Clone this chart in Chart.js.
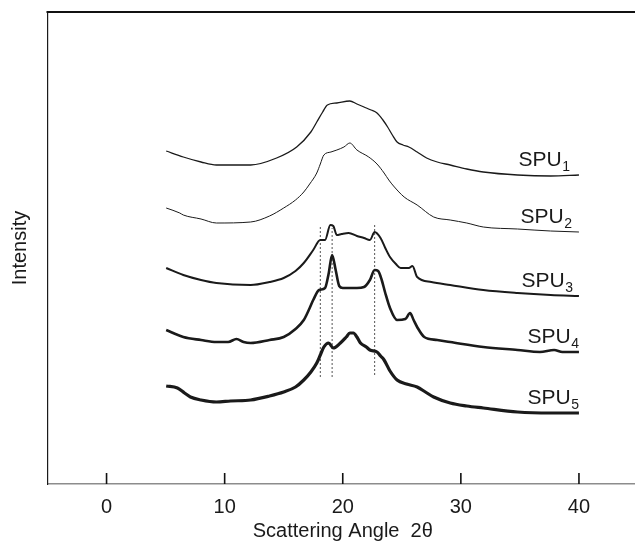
<!DOCTYPE html>
<html>
<head>
<meta charset="utf-8">
<script src="https://cdn.jsdelivr.net/npm/chart.js@4.4.1/dist/chart.umd.min.js"></script>
<style>
  html, body { margin: 0; padding: 0; background: #fff; overflow: hidden; }
  #wrap { position: relative; width: 638px; height: 543px; }
</style>
</head>
<body>
<div id="wrap"><canvas id="c"></canvas></div>
<script>
// ---- Data ----
const tickValues = [0, 10, 20, 30, 40];
const seriesNames = ['SPU1', 'SPU2', 'SPU3', 'SPU4', 'SPU5'];
const seriesSubs = ['1', '2', '3', '4', '5'];

// [scattering angle, intensity (arbitrary, offset-stacked)]
const spu1 = [[5.05,333],[6.5,327],[8,322],[9.3,319],[12.2,319],[14.4,326],[16.1,337],[17.3,352],[17.8,362],[18.3,372],[18.7,379],[19.5,381],[20.6,383],[21.2,380],[21.8,377],[22.4,374],[22.9,371],[23.4,364],[23.8,357],[24.2,349],[24.6,342],[25.1,339],[25.6,337],[26.3,332],[27.1,326],[28,322],[29.1,319],[30.5,315],[31.9,312],[34.8,309],[37.6,308],[40,309]];
const spu2 = [[5.05,276],[6.2,271],[6.5,269],[8,265],[9.3,261],[12.2,262],[13.8,268],[15.0,276],[16.0,284],[16.7,292],[17.2,300],[17.8,311],[18.1,320],[18.4,329],[19.0,332],[19.5,334],[20.1,337],[20.6,341],[21.2,334],[22.2,327],[22.9,320],[23.5,311],[23.9,304],[24.3,298],[25.2,287],[26.3,279],[27.7,267],[29.1,264],[30.5,261],[31.9,257],[34.8,255],[37.6,253],[40,252]];
const spu3 = [[5.05,216],[6.5,209],[8,204],[9.3,201],[12.2,199],[13.8,202],[15.0,206],[16.0,213],[16.7,221],[17.5,234],[18.1,244],[18.5,244],[18.95,259],[19.2,258],[19.5,249],[19.9,250],[20.5,251],[21.2,248],[21.8,246],[22.3,244],[22.7,252],[23.2,246],[23.6,236],[24.0,227],[24.5,220],[24.9,216],[25.6,216],[25.9,218],[26.3,207],[27.5,202],[29.1,199],[31.9,194],[34.8,191],[37.6,189],[40,188]];
const spu4 = [[5.05,154],[6.5,147],[8,144],[9.3,142],[10.3,142],[11.0,145],[11.6,142],[12.2,141],[13.8,144],[15.0,147],[16.0,155],[16.7,164],[17.2,176],[17.5,184],[18.0,194],[18.5,196],[18.8,210],[19.1,229],[19.4,214],[19.7,198],[20.0,196],[20.6,196],[21.2,196],[21.8,197],[22.3,204],[22.7,214],[23.0,213],[23.3,204],[23.6,191],[24.0,176],[24.6,164],[25.3,165],[25.7,171],[26.0,164],[26.3,157],[26.9,147],[28,144],[29.1,142],[31.9,137],[34.8,134],[36.7,132],[37.9,134],[38.6,132],[40,132]];
const spu5 = [[5.05,98],[6.0,96],[6.6,91],[7.1,87],[8,84],[9.3,82],[10.5,83],[12.2,84],[13.8,88],[15.0,92],[16.0,97],[16.7,104],[17.3,112],[17.8,121],[18.1,129],[18.4,137],[18.8,141],[19.2,136],[19.8,141],[20.3,147],[20.6,151],[20.9,151],[21.2,147],[21.5,141],[22.0,137],[22.3,134],[22.9,132],[23.2,128],[23.5,124],[24.0,113],[24.6,104],[25.4,100],[26.3,97],[27.0,92],[27.7,87],[29.1,81],[30.5,78],[31.9,76],[34.8,72],[37.6,71],[40,71]];

// vertical dotted reference lines: [angle, lower intensity, upper intensity]
const refLines = [[18.1,107,257],[19.1,107,256],[22.7,109,261]];

// ---- Styling ----
const lineWidths = [1.3, 1.0, 2.0, 2.6, 3.2];
const labelRightOffsets = [9, 7, 6, 0, 0];
const FONT = '"Liberation Sans", Arial, Helvetica, sans-serif';
const INK = '#1a1a1a';

const toPts = arr => arr.map(p => ({x: p[0], y: p[1]}));
const allSeries = [spu1, spu2, spu3, spu4, spu5];

const datasets = allSeries.map((s, i) => ({
  label: seriesNames[i],
  data: toPts(s),
  borderColor: INK,
  borderWidth: lineWidths[i],
  pointRadius: 0,
  fill: false,
  cubicInterpolationMode: 'monotone'
}));
refLines.forEach(r => datasets.push({
  label: 'ref',
  data: [{x: r[0], y: r[1]}, {x: r[0], y: r[2]}],
  borderColor: '#555',
  borderWidth: 1,
  borderDash: [2, 2],
  pointRadius: 0,
  fill: false
}));

const framePlugin = {
  id: 'frame',
  afterDraw(chart) {
    const {ctx, chartArea: a, scales: {x}} = chart;
    ctx.save();
    ctx.fillStyle = '#111';
    // top border
    ctx.fillRect(a.left - 1, a.top - 1, a.right - a.left + 1, 2);
    // inward ticks
    x.ticks.forEach(t => {
      const px = x.getPixelForValue(t.value);
      ctx.fillRect(px - 0.8, a.bottom - 11, 1.6, 11);
    });
    // series labels
    ctx.fillStyle = INK;
    ctx.textBaseline = 'alphabetic';
    ctx.textAlign = 'left';
    for (let i = 0; i < allSeries.length; i++) {
      const meta = chart.getDatasetMeta(i);
      const last = meta.data[meta.data.length - 1];
      const right = last.x - labelRightOffsets[i];
      const base = last.y - 9;
      ctx.font = '14px ' + FONT;
      const wSub = ctx.measureText(seriesSubs[i]).width;
      ctx.fillText(seriesSubs[i], right - wSub, base + 5);
      ctx.font = '21px ' + FONT;
      const main = 'SPU';
      const wMain = ctx.measureText(main).width;
      ctx.fillText(main, right - wSub - wMain - 0.5, base);
    }
    ctx.restore();
  }
};

new Chart(document.getElementById('c'), {
  type: 'line',
  data: { datasets },
  options: {
    responsive: true,
    maintainAspectRatio: false,
    animation: false,
    layout: { padding: { top: 12, right: 0, left: 0, bottom: 0 } },
    plugins: { legend: { display: false }, tooltip: { enabled: false } },
    scales: {
      x: {
        type: 'linear',
        min: -5,
        max: 45,
        afterBuildTicks: s => { s.ticks = tickValues.map(v => ({value: v})); },
        afterFit: s => { s.height = 59; },
        grid: { display: false, drawTicks: false },
        border: { display: true, color: '#8c8c8c', width: 1.5 },
        ticks: { color: INK, font: { family: FONT, size: 20 }, padding: 11, maxRotation: 0 },
        title: { display: true, text: 'Scattering Angle  2θ', color: INK, font: { family: FONT, size: 20 }, padding: { top: 0, bottom: 0 } }
      },
      y: {
        type: 'linear',
        min: 0,
        max: 472,
        afterFit: s => { s.width = 47.5; },
        grid: { display: false, drawTicks: false },
        border: { display: true, color: INK, width: 1.2 },
        ticks: { display: false },
        title: { display: true, text: 'Intensity', color: INK, font: { family: FONT, size: 20 }, padding: { top: 8, bottom: 0 } }
      }
    }
  },
  plugins: [framePlugin]
});
</script>
</body>
</html>
